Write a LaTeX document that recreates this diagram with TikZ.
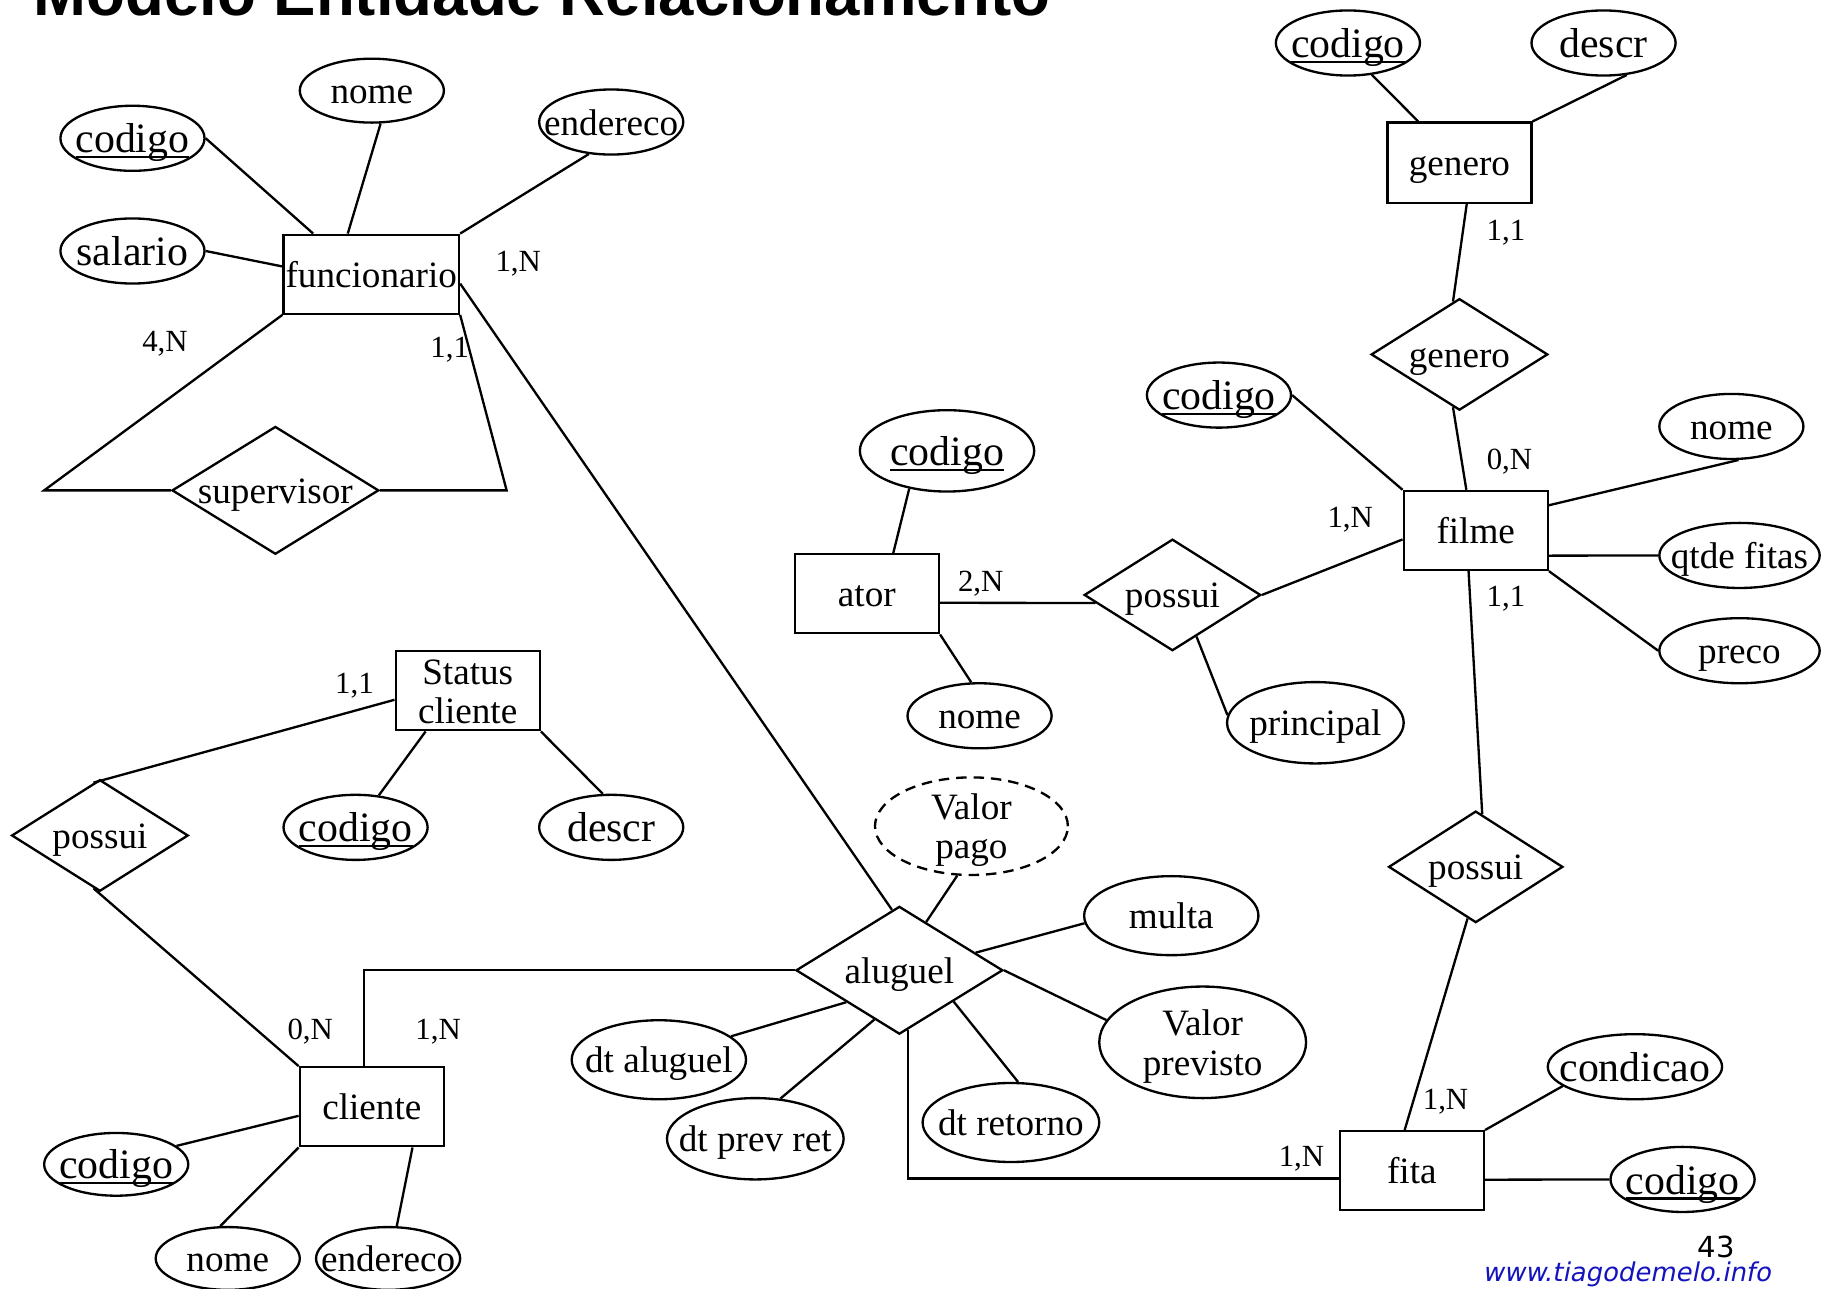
\documentclass[tikz,border=0pt]{standalone}
\usepackage{fontspec}
\setmainfont{Liberation Serif}
\newfontfamily\titlefont{Liberation Sans}
\newfontfamily\dvs{DejaVu Sans}
\newfontfamily\dvsi{DejaVu Sans}[FakeSlant=0.2]
\usetikzlibrary{shapes.geometric}
\definecolor{urlblue}{RGB}{20,20,190}
\newcommand\tx[1]{\raisebox{-0.35em}[0pt][0pt]{\makebox[0pt]{#1}}}
\newcommand\txx[2]{\raisebox{-0.35em}[0pt][0pt]{\makebox[0pt]{\raisebox{17pt}{\makebox[0pt]{#1}}\raisebox{-17pt}{\makebox[0pt]{#2}}}}}
\newcommand\ukey[1]{\setbox0\hbox{#1}\rlap{\rule[-0.13em]{\wd0}{0.055em}}\box0}
\tikzset{
  ent/.style={draw, rectangle, minimum width=124pt, minimum height=68pt, inner sep=0pt, font=\fontsize{32}{34}\selectfont},
  att/.style={draw, ellipse, inner sep=0pt, font=\fontsize{32}{34}\selectfont},
  attb/.style={att, font=\fontsize{36}{38}\selectfont},
  rel/.style={draw, diamond, inner sep=0pt, minimum width=152pt, minimum height=96pt, font=\fontsize{32}{34}\selectfont},
  card/.style={inner sep=0pt, font=\fontsize{26.5}{28}\selectfont},
  sz/.style 2 args={minimum width=#1, minimum height=#2},
}
\begin{document}
\begin{tikzpicture}[x=1pt, y=-1pt, line width=2pt]
\fill[white] (0,0) rectangle (1568,1109);
\useasboundingbox (0,0) rectangle (1568,1109);

% title and footer
\node[anchor=base west, inner sep=0pt, font=\titlefont\bfseries\fontsize{54.7}{60}\selectfont] (title) at (28,13) {Modelo Entidade Relacionamento};
\node[anchor=base, inner sep=0pt, font=\dvs\fontsize{25}{28}\selectfont] (pg) at (1477,1082) {43};
\node[anchor=base west, inner sep=0pt, text=urlblue, font=\dvsi\fontsize{22.3}{25}\selectfont] (url) at (1275,1103) {www.tiagodemelo.info};

% entities
\node[ent, minimum width=151pt] (func) at (319.5,236) {\tx{funcionario}};
\node[ent, minimum height=69pt] (gen) at (1256,140) {\tx{genero}};
\node[ent] (filme) at (1270,456.5) {\tx{filme}};
\node[ent] (ator) at (746,511) {\tx{ator}};
\node[ent] (stat) at (402.5,594.5) {\txx{Status}{cliente}};
\node[ent] (cli) at (320,952.5) {\tx{cliente}};
\node[ent] (fita) at (1215,1007.5) {\tx{fita}};

% relationships
\node[rel, sz={178pt}{110pt}] (sup) at (237,422) {\tx{supervisor}};
\node[rel] (rgen) at (1256,305) {\tx{genero}};
\node[rel] (pator) at (1009,512) {\tx{possui}};
\node[rel] (pstat) at (86,719) {\tx{possui}};
\node[rel, sz={178pt}{110pt}] (alug) at (774,835) {\tx{aluguel}};
\node[rel, sz={150pt}{96pt}] (pfita) at (1270,746) {\tx{possui}};

% attributes
\node[attb, sz={124pt}{56pt}] (fcod) at (114,119) {\tx{\ukey{codigo}}};
\node[att, sz={124pt}{55pt}] (fnome) at (320,78) {\tx{nome}};
\node[att, sz={124pt}{56pt}] (fend) at (526,105) {\tx{endereco}};
\node[attb, sz={124pt}{56pt}] (fsal) at (114,216) {\tx{salario}};
\node[attb, sz={124pt}{56pt}] (gcod) at (1160,37) {\tx{\ukey{codigo}}};
\node[attb, sz={124pt}{56pt}] (gdesc) at (1380,37) {\tx{descr}};
\node[attb, sz={124pt}{56pt}] (mcod) at (1049,340) {\tx{\ukey{codigo}}};
\node[att, sz={124pt}{56pt}] (mnome) at (1490,367) {\tx{nome}};
\node[att, sz={138pt}{56pt}] (qtde) at (1497,478) {\tx{qtde fitas}};
\node[att, sz={138pt}{56pt}] (preco) at (1497,560) {\tx{preco}};
\node[attb, sz={150pt}{70pt}] (acod) at (815,388) {\tx{\ukey{codigo}}};
\node[att, sz={124pt}{56pt}] (anome) at (843,616) {\tx{nome}};
\node[att, sz={152pt}{70pt}] (princ) at (1132,622) {\tx{principal}};
\node[attb, sz={124pt}{56pt}] (scod) at (306,712) {\tx{\ukey{codigo}}};
\node[attb, sz={124pt}{56pt}] (sdesc) at (526,712) {\tx{descr}};
\node[attb, sz={124pt}{54pt}] (ccod) at (100,1002) {\tx{\ukey{codigo}}};
\node[att, sz={124pt}{54pt}] (cnome) at (196,1083) {\tx{nome}};
\node[att, sz={124pt}{54pt}] (cend) at (334,1083) {\tx{endereco}};
\node[att, sz={150pt}{68pt}] (dtal) at (567,912) {\tx{dt aluguel}};
\node[att, sz={152pt}{70pt}] (dtprev) at (650,980) {\tx{dt prev ret}};
\node[att, sz={166pt}{84pt}, dash pattern=on 9pt off 6pt] (vpago) at (836,711) {\txx{Valor}{pago}};
\node[att, sz={150pt}{68pt}] (multa) at (1008,788) {\tx{multa}};
\node[att, sz={178pt}{96pt}] (vprev) at (1035,897) {\txx{Valor}{previsto}};
\node[att, sz={152pt}{68pt}] (dtret) at (870,966) {\tx{dt retorno}};
\node[attb, sz={150pt}{56pt}] (cond) at (1407,918) {\tx{condicao}};
\node[attb, sz={124pt}{56pt}] (fcod2) at (1448,1015) {\tx{\ukey{codigo}}};

% connectors
\coordinate (supL) at (38,422);
\coordinate (supR) at (436,422);
\draw (fcod.east) -- (func.145);
\draw (fnome.-75) -- (func.120);
\draw (fend.235) -- (func.north east);
\draw (fsal.east) -- (func.175);
\draw (func.south west) -- (supL) -- (sup.west);
\draw (func.south east) -- (supR) -- (sup.east);
\draw (func.-6) -- (alug.97);
\draw (gcod.-53) -- (gen.135);
\draw (gdesc.-54) -- (gen.north east);
\draw (gen.-80) -- (rgen.97);
\draw (rgen.-97) -- (filme.103);
\draw (mcod.east) -- (filme.north west);
\draw (filme.19) -- (mnome.-78);
\draw (filme.-19) -- (qtde.west);
\draw (filme.south east) -- (preco.west);
\draw (filme.-100) -- (pfita.83);
\draw (pfita.-99) -- (fita.100);
\draw (ator.-7) -- (pator.186);
\draw (pator.east) -- (filme.187);
\draw (acod.225) -- (ator.57);
\draw (ator.south east) -- (anome.104);
\draw (pator.-60) -- (princ.175);
\draw (stat.187) -- (pstat.97);
\draw (pstat.-97) -- (cli.north west);
\draw (scod.54) -- (stat.-136);
\draw (sdesc.104) -- (stat.south east);
\draw (cli.101) |- (alug.west);
\draw (ccod.17) -- (cli.187);
\draw (cli.south west) -- (cnome.103);
\draw (cli.-45) -- (cend.75);
\draw (dtal.18) -- (alug.211);
\draw (dtprev.58) -- (alug.243);
\draw (alug.-82) |- (fita.186);
\draw (vpago.-106) -- (alug.61);
\draw (multa.185) -- (alug.13);
\draw (alug.east) -- (vprev.167);
\draw (alug.-30) -- (dtret.80);
\draw (fita.north east) -- (cond.195);
\draw (fita.-7) -- (fcod2.west);

% cardinalities
\node[card] (k1) at (446,227) {1,N};
\node[card] (k2) at (142,296) {4,N};
\node[card] (k3) at (387,301) {1,1};
\node[card] (k4) at (1296,200) {1,1};
\node[card] (k5) at (1299,397) {0,N};
\node[card] (k6) at (1162,447) {1,N};
\node[card] (k7) at (844,502) {2,N};
\node[card] (k8) at (1296,515) {1,1};
\node[card] (k9) at (305,590) {1,1};
\node[card] (k10) at (267,888) {0,N};
\node[card] (k11) at (377,888) {1,N};
\node[card] (k12) at (1244,948) {1,N};
\node[card] (k13) at (1120,997) {1,N};
\end{tikzpicture}
\end{document}
